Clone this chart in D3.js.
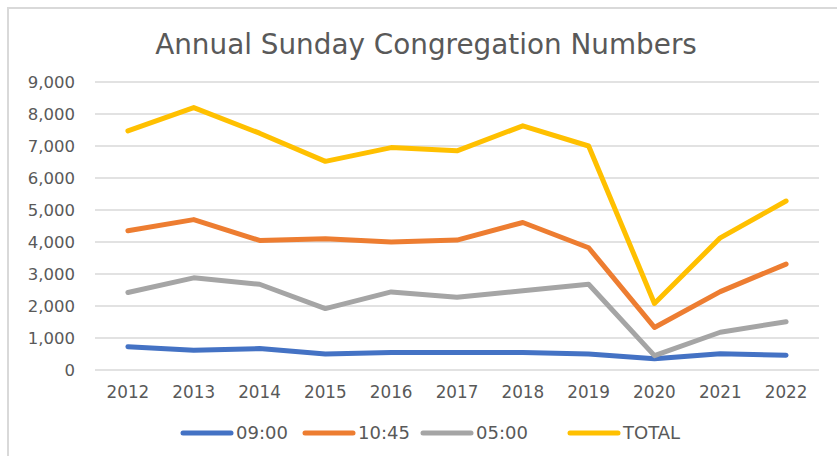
<!DOCTYPE html>
<html>
<head>
<meta charset="utf-8">
<script src="https://cdn.jsdelivr.net/npm/d3@7"></script>
<style>
  body { margin: 0; background: #fff; }
  svg { display: block; font-family: "DejaVu Sans", sans-serif; }
</style>
</head>
<body>
<svg id="chart"></svg>
<script>
const width = 837;
const height = 456;

const years = ["2012", "2013", "2014", "2015", "2016", "2017", "2018", "2019", "2020", "2021", "2022"];
const s0900 = [730, 620, 670, 500, 550, 550, 550, 500, 350, 510, 460];
const s1045 = [4350, 4700, 4050, 4100, 4000, 4060, 4610, 3820, 1330, 2450, 3310];
const s0500 = [2420, 2880, 2680, 1920, 2440, 2270, 2480, 2680, 450, 1180, 1510];
const total = [7470, 8200, 7400, 6520, 6950, 6850, 7630, 7000, 2080, 4130, 5280];
const yTicks = [0, 1000, 2000, 3000, 4000, 5000, 6000, 7000, 8000, 9000];

const series = [
  { name: "09:00", values: s0900, color: "#4472c4" },
  { name: "10:45", values: s1045, color: "#ed7d31" },
  { name: "05:00", values: s0500, color: "#a5a5a5" },
  { name: "TOTAL", values: total, color: "#ffc000" }
];

const svg = d3.select("#chart")
  .attr("width", width)
  .attr("height", height);

// chart frame (only top/left edges visible in the crop)
svg.append("path")
  .attr("d", `M8,${height} V8 H${width}`)
  .attr("fill", "none")
  .attr("stroke", "#d9d9d9")
  .attr("stroke-width", 2);

const x = d3.scaleBand()
  .domain(years)
  .range([95, 819]);

const y = d3.scaleLinear()
  .domain([0, 9000])
  .range([370, 82]);

// gridlines
svg.append("g")
  .selectAll("line")
  .data(yTicks)
  .join("line")
  .attr("x1", 95)
  .attr("x2", 819)
  .attr("y1", d => y(d))
  .attr("y2", d => y(d))
  .attr("stroke", "#d9d9d9")
  .attr("stroke-width", 1.5);

// y labels
svg.append("g")
  .selectAll("text")
  .data(yTicks)
  .join("text")
  .attr("x", 75)
  .attr("y", d => y(d))
  .attr("dy", "0.36em")
  .attr("text-anchor", "end")
  .attr("fill", "#595959")
  .style("font-size", "16.5px")
  .text(d => d3.format(",")(d));

// x labels
svg.append("g")
  .selectAll("text")
  .data(years)
  .join("text")
  .attr("x", d => x(d) + x.bandwidth() / 2)
  .attr("y", 398)
  .attr("text-anchor", "middle")
  .attr("fill", "#595959")
  .style("font-size", "16.8px")
  .text(d => d);

const line = d3.line()
  .x((d, i) => x(years[i]) + x.bandwidth() / 2)
  .y(d => y(d));

svg.append("g")
  .selectAll("path")
  .data(series)
  .join("path")
  .attr("d", d => line(d.values))
  .attr("fill", "none")
  .attr("stroke", d => d.color)
  .attr("stroke-width", 5)
  .attr("stroke-linecap", "round")
  .attr("stroke-linejoin", "round");

// title
const title = svg.append("text")
  .attr("x", 426)
  .attr("y", 54)
  .attr("text-anchor", "middle")
  .attr("fill", "#595959")
  .style("font-size", "25px")
  .text("Annual Sunday Congregation Numbers");
const tw = title.node().getComputedTextLength();
title.style("font-size", (25 * 542 / tw) + "px");

// legend
const legendX = [183, 305, 423, 570];
const legend = svg.append("g")
  .selectAll("g")
  .data(series)
  .join("g")
  .attr("transform", (d, i) => `translate(${legendX[i]},433)`);

legend.append("line")
  .attr("x1", 0)
  .attr("x2", 48)
  .attr("stroke", d => d.color)
  .attr("stroke-width", 5)
  .attr("stroke-linecap", "round");

legend.append("text")
  .attr("x", 53)
  .attr("dy", "0.36em")
  .attr("fill", "#595959")
  .style("font-size", "18px")
  .text(d => d.name);
</script>
</body>
</html>
